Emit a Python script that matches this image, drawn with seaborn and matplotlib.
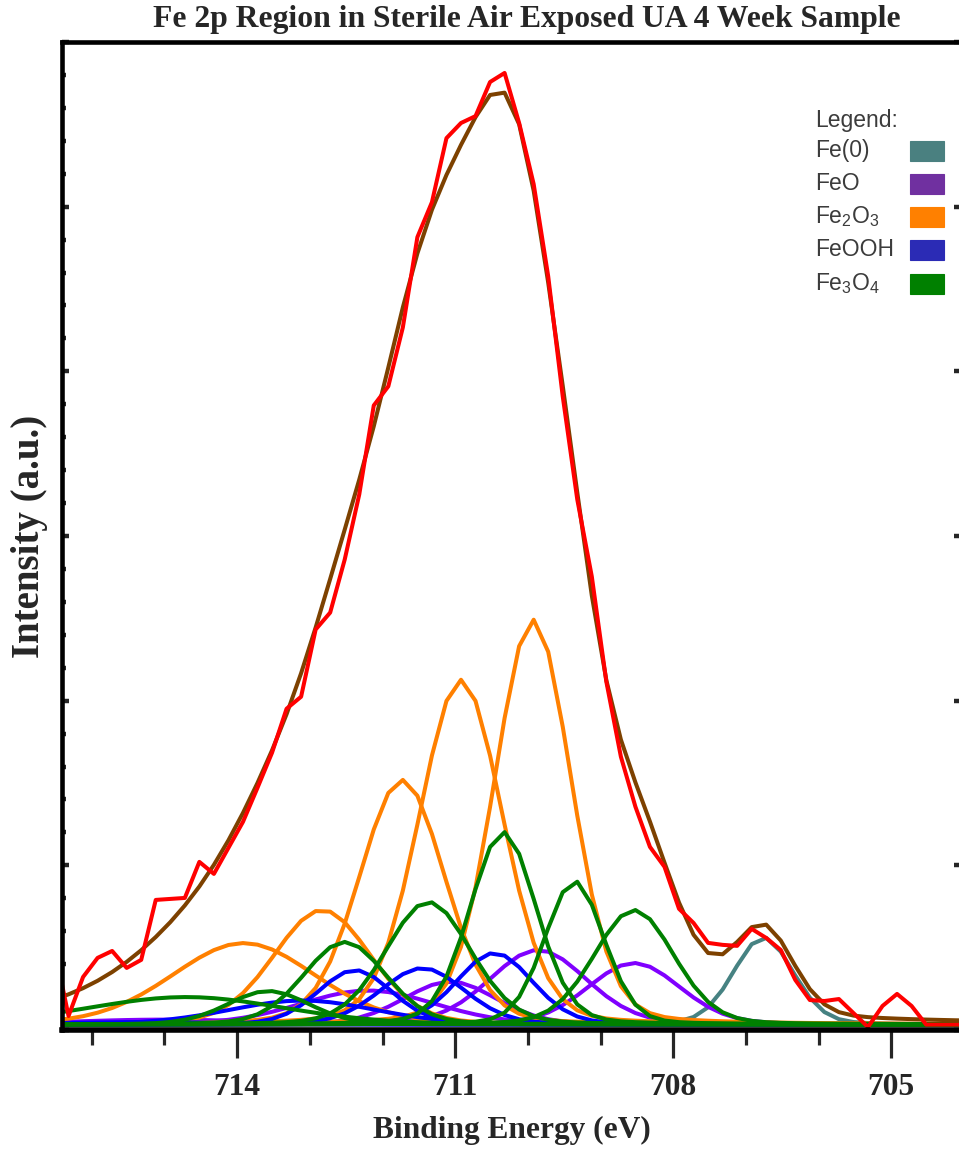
import numpy as np
import pandas as pd
import matplotlib
matplotlib.use("Agg")
import matplotlib.pyplot as plt
from matplotlib.patches import Rectangle
from matplotlib.ticker import MultipleLocator, NullFormatter
import seaborn as sns

# %%
# measured Fe 2p spectrum, 0.2 eV steps starting at 716.52 eV (high -> low BE)
e_start = 716.52
e_step = 0.2
raw_counts = [511, 85, 322, 438, 480, 377, 426, 790, 796, 802,
              1021, 948, 1106, 1264, 1471, 1684, 1951, 2024, 2432, 2535,
              2857, 3252, 3793, 3909, 4267, 4815, 5027, 5416, 5508, 5550,
              5757, 5812, 5508, 5137, 4577, 3848, 3222, 2754, 2115, 1660,
              1356, 1112, 991, 736, 650, 529, 517, 511, 614, 559,
              486, 304, 182, 176, 188, 103, 18, 146, 219, 146,
              33, 33, 33, 33]
background = 33

# fitted GL components: centre (eV), height (counts), FWHM (eV)
gl_mix = 0.15

fe0_pos = [706.76]
fe0_height = [529]
fe0_fwhm = [0.97]

feo_pos = [709.86, 708.54, 712.20, 711.07, 715.00]
feo_height = [453, 374, 207, 261, 30]
feo_fwhm = [1.58, 1.50, 2.20, 1.50, 3.00]

fe2o3_pos = [709.93, 710.92, 711.73, 712.83, 713.91]
fe2o3_height = [2459, 2094, 1486, 696, 495]
fe2o3_fwhm = [1.25, 1.36, 1.39, 1.57, 2.33]

feooh_pos = [710.46, 711.45, 712.38, 713.10, 715.20]
feooh_height = [435, 343, 331, 146, 15]
feooh_fwhm = [1.23, 1.37, 1.20, 2.40, 3.00]

fe3o4_pos = [710.34, 709.36, 708.54, 711.37, 712.52, 713.57, 714.70]
fe3o4_height = [1170, 872, 696, 745, 502, 204, 167]
fe3o4_fwhm = [1.08, 0.96, 1.30, 1.38, 1.33, 1.33, 3.20]

species = ["Fe(0)", "FeO", "Fe$_\\mathregular{2}$O$_\\mathregular{3}$", "FeOOH",
           "Fe$_\\mathregular{3}$O$_\\mathregular{4}$"]
line_colors = ["#468282", "#8000ff", "#ff8000", "#0000ff", "#008000"]
legend_colors = ["#4a8080", "#7030a0", "#ff8000", "#2b2bb5", "#008000"]
envelope_color = "#7d4100"
raw_color = "#ff0000"

# %%
energy = np.round(e_start - e_step * np.arange(len(raw_counts)), 2)

params = [(fe0_pos, fe0_height, fe0_fwhm),
          (feo_pos, feo_height, feo_fwhm),
          (fe2o3_pos, fe2o3_height, fe2o3_fwhm),
          (feooh_pos, feooh_height, feooh_fwhm),
          (fe3o4_pos, fe3o4_height, fe3o4_fwhm)]


def gl_peak(x, pos, height, fwhm):
    u = 4 * ((x - pos) / fwhm) ** 2
    return height * ((1 - gl_mix) * np.exp(-np.log(2) * u) + gl_mix / (1 + u))


rows = []
palette = {}
hue_order = []
envelope = np.full(len(energy), float(background))
for sp_i, (pos, hgt, fw) in enumerate(params):
    for j in range(len(pos)):
        peak = gl_peak(energy, pos[j], hgt[j], fw[j])
        envelope += peak
        name = f"s{sp_i}_{j}"
        palette[name] = line_colors[sp_i]
        hue_order.append(name)
        rows.append(pd.DataFrame({"energy": energy, "intensity": peak + background, "curve": name}))
comp_df = pd.concat(rows, ignore_index=True)

# %%
sns.set_theme(style="ticks")
plt.rcParams["font.family"] = ["Liberation Serif", "DejaVu Serif"]
plt.rcParams["mathtext.fontset"] = "custom"
plt.rcParams["mathtext.rm"] = "Liberation Sans"

fig = plt.figure(figsize=(9.59, 11.53), dpi=100)
ax = fig.add_axes([62 / 959, 1 - 1030 / 1153, 899 / 959, 988 / 1153])

lw = 2.9
sns.lineplot(data=comp_df, x="energy", y="intensity", hue="curve", hue_order=hue_order,
             palette=palette, estimator=None, sort=False, legend=False, linewidth=lw, ax=ax)
sns.lineplot(x=energy, y=envelope, color=envelope_color, estimator=None, sort=False,
             linewidth=lw, ax=ax)
sns.lineplot(x=energy, y=raw_counts, color=raw_color, estimator=None, sort=False,
             linewidth=lw, ax=ax)

ax.set_xlim(716.41, 704.04)
ax.set_ylim(0, 6000)

for side in ["left", "top", "bottom", "right"]:
    ax.spines[side].set_linewidth(3.3)
    ax.spines[side].set_color("black")
ax.spines["bottom"].set_linewidth(4.0)

ax.xaxis.set_major_locator(MultipleLocator(3))
ax.xaxis.set_minor_locator(MultipleLocator(1))
ax.yaxis.set_major_locator(MultipleLocator(1000))
ax.yaxis.set_minor_locator(MultipleLocator(200))
ax.yaxis.set_major_formatter(NullFormatter())
ax.xaxis.set_major_formatter(matplotlib.ticker.FuncFormatter(lambda v, p: f"{v:.0f}"))

ax.tick_params(axis="x", which="major", direction="out", length=20, width=2.3,
               pad=11, labelsize=22.7, top=False)
ax.tick_params(axis="x", which="minor", direction="out", length=11, width=2.3, top=False)
ax.tick_params(axis="y", which="major", direction="in", length=5, width=3.2,
               left=True, right=True)
ax.tick_params(axis="y", which="minor", direction="in", length=3, width=3.2,
               left=True, right=False)
for lab in ax.get_xticklabels():
    lab.set_fontweight("bold")

ax.set_xlabel("Binding Energy (eV)", fontsize=22.6, fontweight="bold", va="center")
ax.xaxis.set_label_coords(0.5, -0.102)
ax.set_ylabel("Intensity (a.u.)", fontsize=28, fontweight="bold", va="center")
ax.yaxis.set_label_coords(-0.0356, 0.5)

fig.text(527 / 959, 1 - 20 / 1153, "Fe 2p Region in Sterile Air Exposed UA 4 Week Sample",
         ha="center", va="center", fontsize=22.8, fontweight="bold")

# legend block, drawn by hand (labels left, swatches right)
leg_font = ["Liberation Sans", "DejaVu Sans"]
fig.text(815 / 959, 1 - 120 / 1153, "Legend:", ha="left", va="center",
         fontsize=16.5, color="#3c3c3c", family=leg_font)
row_y = [151, 184, 217, 250, 284]
for lbl, col, yy in zip(species, legend_colors, row_y):
    fig.text(815 / 959, 1 - yy / 1153, lbl, ha="left", va="center",
             fontsize=16.5, color="#3c3c3c", family=leg_font)
    fig.patches.append(Rectangle((910 / 959, 1 - (yy + 10) / 1153), 34 / 959, 20 / 1153,
                                 transform=fig.transFigure, facecolor=col,
                                 edgecolor=col, linewidth=0.8))

fig.savefig("out.png", dpi=100)
